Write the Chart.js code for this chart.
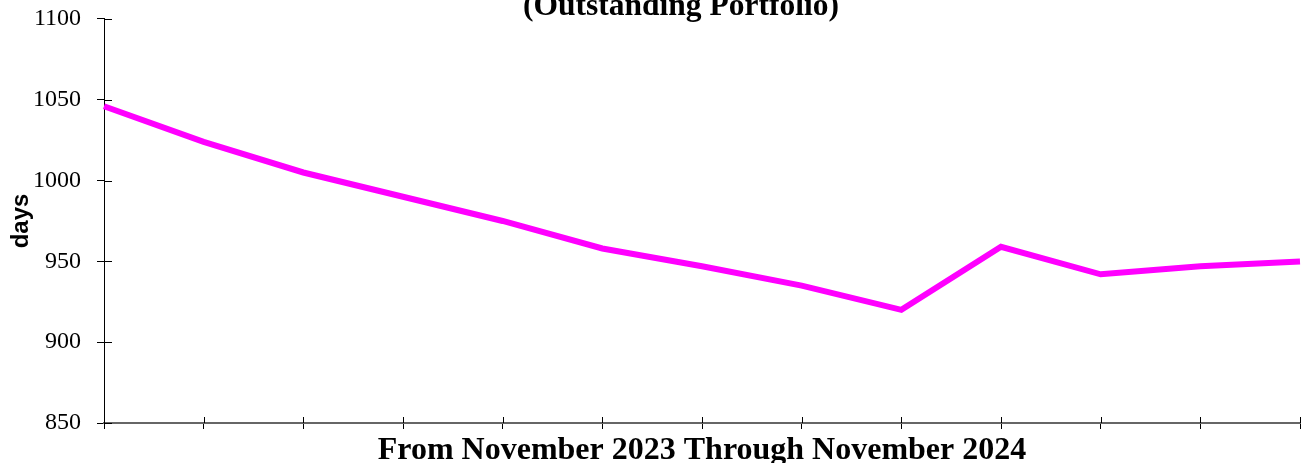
<!DOCTYPE html>
<html>
<head>
<meta charset="utf-8">
<script src="https://cdn.jsdelivr.net/npm/chart.js@4"></script>
<style>
  html, body { margin: 0; padding: 0; background: #fff; }
  #wrap { position: relative; width: 1301px; height: 463px; overflow: hidden; }
  #chart { position: absolute; left: 0; top: -20px; }
</style>
</head>
<body>
<div id="wrap"><canvas id="chart" width="1362" height="483"></canvas></div>
<script>
// Outstanding portfolio age, monthly, Nov 2023 .. Nov 2024
const months = ['Nov 2023', 'Dec 2023', 'Jan 2024', 'Feb 2024', 'Mar 2024', 'Apr 2024', 'May 2024',
  'Jun 2024', 'Jul 2024', 'Aug 2024', 'Sep 2024', 'Oct 2024', 'Nov 2024'];
const days = [1046, 1024, 1005, 990, 975, 958, 947, 935, 920, 959, 942, 947, 950];
const yTicks = [850, 900, 950, 1000, 1050, 1100];

const chartTitle = '(Outstanding Portfolio)';
const xTitle = 'From November 2023 Through November 2024';
const yTitle = 'days';

const SERIF = "'Liberation Serif', 'Times New Roman', serif";
const SANS = "'Liberation Sans', Arial, sans-serif";

// tick marks in the original cross the axis line; Chart.js only draws the outer half
const innerTicks = {
  id: 'innerTicks',
  afterDraw(chart) {
    const ctx = chart.ctx;
    const x = chart.scales.x, y = chart.scales.y;
    ctx.save();
    ctx.strokeStyle = '#000';
    ctx.lineWidth = 1;
    ctx.beginPath();
    x.ticks.forEach((t, i) => {
      const px = Math.round(x.getPixelForTick(i)) + 0.5;
      ctx.moveTo(px, x.top);
      ctx.lineTo(px, x.top - 6);
    });
    y.ticks.forEach((t, i) => {
      const py = Math.round(y.getPixelForTick(i)) + 0.5;
      ctx.moveTo(y.right, py);
      ctx.lineTo(y.right + 8, py);
    });
    ctx.stroke();
    ctx.restore();
  }
};

new Chart(document.getElementById('chart'), {
  type: 'line',
  data: {
    labels: months,
    datasets: [{
      data: days,
      borderColor: '#FF00FF',
      borderWidth: 6,
      pointRadius: 0,
      tension: 0,
      fill: false
    }]
  },
  options: {
    responsive: false,
    animation: false,
    layout: { padding: 0 },
    plugins: {
      legend: { display: false },
      tooltip: { enabled: false },
      title: {
        display: true,
        text: chartTitle,
        color: '#000',
        font: { family: SERIF, size: 31.5, weight: 'bold', lineHeight: 0.9 },
        padding: { top: 13, bottom: -2.4 }
      }
    },
    scales: {
      x: {
        type: 'category',
        offset: false,
        ticks: { display: false },
        grid: { drawOnChartArea: false, drawTicks: true, tickLength: 6, color: '#000', lineWidth: 1 },
        border: { display: true, color: '#666', width: 2 },
        title: {
          display: true,
          text: xTitle,
          color: '#000',
          font: { family: SERIF, size: 32, weight: 'bold', lineHeight: 0.9 },
          padding: { top: 0, bottom: -2.4 }
        },
        afterFit(scale) { scale.height = 40; }
      },
      y: {
        min: 850,
        max: 1100,
        afterBuildTicks(scale) { scale.ticks = yTicks.map(v => ({ value: v })); },
        ticks: {
          color: '#000',
          padding: 16,
          font: { family: SERIF, size: 24 },
          callback: v => String(v)
        },
        grid: { drawOnChartArea: false, drawTicks: true, tickLength: 7, color: '#000', lineWidth: 1 },
        border: { display: true, color: '#000', width: 1 },
        title: {
          display: true,
          text: yTitle,
          color: '#000',
          font: { family: SANS, size: 24, weight: 'bold', lineHeight: 1.2 },
          padding: { top: 7, bottom: 0 }
        },
        afterFit(scale) { scale.width = 104; }
      },
      // empty right-hand spacer so the plot ends at the window edge
      spacer: {
        type: 'linear',
        position: 'right',
        display: true,
        ticks: { display: false },
        grid: { display: false },
        border: { display: false },
        afterFit(scale) { scale.width = 62; }
      }
    }
  },
  plugins: [innerTicks]
});
</script>
</body>
</html>
